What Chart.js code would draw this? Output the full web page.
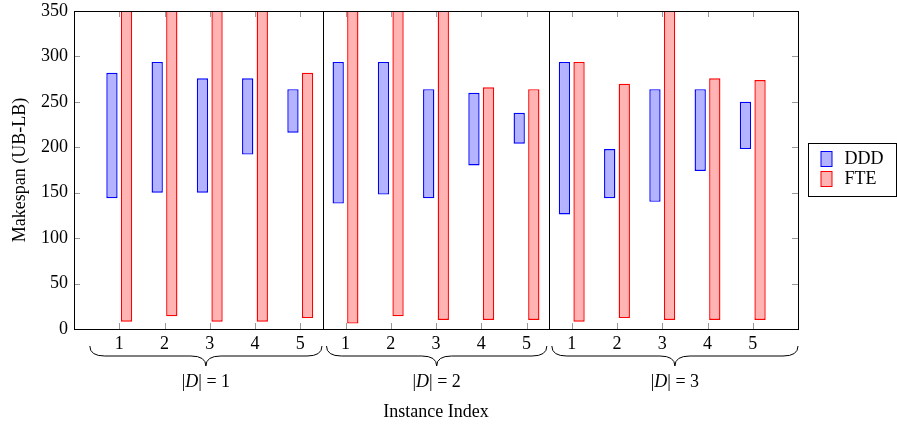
<!DOCTYPE html>
<html>
<head>
<meta charset="utf-8">
<script src="https://cdn.jsdelivr.net/npm/chart.js@4"></script>
<style>
  html, body { margin: 0; padding: 0; background: #fff; }
</style>
</head>
<body>
<canvas id="grafica" width="897" height="427"></canvas>
<script>
// datos
const instancias = ["1", "2", "3", "4", "5", "1", "2", "3", "4", "5", "1", "2", "3", "4", "5"]
const grupos = ["1", "2", "3"]          // |D| = ...
const instanciasPorGrupo = 5
const dddBajo = [144, 150, 150, 192, 216, 138, 148, 144, 180, 204, 126, 144, 140, 174, 198]
const dddAlto = [282, 294, 276, 276, 264, 294, 294, 264, 260, 238, 294, 198, 264, 264, 250]
const fteBajo = [8, 14, 8, 8, 12, 6, 14, 10, 10, 10, 8, 12, 10, 10, 10]
const fteAlto = [400, 400, 400, 400, 282, 400, 400, 400, 266, 264, 294, 270, 400, 276, 274]
const ticksY = [0, 50, 100, 150, 200, 250, 300, 350]

const FUENTE = '"Liberation Serif", "Times New Roman", serif'

function armarSerie(bajo, alto) {
  return instancias.map((_, i) => ({ x: i + 1, y: [bajo[i], alto[i]] }))
}

// llave horizontal con la punta hacia abajo
function llave(ctx, x0, x1, yArriba) {
  const r = 15, h = 10
  const xm = (x0 + x1) / 2
  const y1 = yArriba + h, y2 = y1 + h
  ctx.beginPath()
  ctx.moveTo(x0, yArriba)
  ctx.quadraticCurveTo(x0, y1, x0 + r, y1)
  ctx.lineTo(xm - r, y1)
  ctx.quadraticCurveTo(xm, y1, xm, y2)
  ctx.quadraticCurveTo(xm, y1, xm + r, y1)
  ctx.lineTo(x1 - r, y1)
  ctx.quadraticCurveTo(x1, y1, x1, yArriba)
  ctx.stroke()
}

function etiquetaGrupo(ctx, texto, xc, yc) {
  const normal = "18px " + FUENTE
  const italica = "italic 18px " + FUENTE
  const partes = [["|", normal], ["D", italica], ["| = " + texto, normal]]
  let total = 0
  partes.forEach(p => { ctx.font = p[1]; total += ctx.measureText(p[0]).width })
  let x = xc - total / 2
  ctx.textAlign = "left"
  ctx.textBaseline = "middle"
  partes.forEach(p => {
    ctx.font = p[1]
    ctx.fillText(p[0], x, yc)
    x += ctx.measureText(p[0]).width
  })
}

const extras = {
  id: "extras",
  afterDatasetsDraw(chart) {
    const { ctx, chartArea: a, scales: { x, y } } = chart
    ctx.save()
    // marcas grises hacia adentro
    ctx.strokeStyle = "#999"
    ctx.lineWidth = 1
    ctx.beginPath()
    instancias.forEach((_, i) => {
      const px = Math.round(x.getPixelForValue(i + 1)) + 0.5
      ctx.moveTo(px, a.bottom); ctx.lineTo(px, a.bottom - 6)
      ctx.moveTo(px, a.top); ctx.lineTo(px, a.top + 6)
    })
    ticksY.forEach(v => {
      const py = Math.round(y.getPixelForValue(v)) + 0.5
      ctx.moveTo(a.left, py); ctx.lineTo(a.left + 6, py)
      ctx.moveTo(a.right, py); ctx.lineTo(a.right - 6, py)
    })
    ctx.stroke()
    // separadores de grupos
    ctx.strokeStyle = "#000"
    ctx.beginPath()
    for (let g = 1; g < grupos.length; g++) {
      const px = Math.round(x.getPixelForValue(g * instanciasPorGrupo + 0.5)) + 0.5
      ctx.moveTo(px, a.top); ctx.lineTo(px, a.bottom)
    }
    ctx.stroke()
    ctx.strokeRect(Math.round(a.left) + 0.5, Math.round(a.top) + 0.5, Math.round(a.width), Math.round(a.height))
    ctx.restore()
  },
  afterDraw(chart) {
    const { ctx, chartArea: a, scales: { x } } = chart
    ctx.save()
    ctx.strokeStyle = "#000"
    ctx.fillStyle = "#000"
    ctx.lineWidth = 1
    // llaves bajo cada grupo
    const tramos = [[0.35, 5.48], [5.58, 10.45], [10.56, 16]]
    grupos.forEach((g, i) => {
      const x0 = x.getPixelForValue(tramos[i][0])
      const x1 = x.getPixelForValue(tramos[i][1])
      llave(ctx, x0, x1, a.bottom + 17)
      etiquetaGrupo(ctx, g, (x0 + x1) / 2, a.bottom + 53)
    })
    // leyenda a la derecha
    const lx = Math.round(a.right) + 10.5
    const ly = Math.round((a.top + a.bottom) / 2 - 27) + 0.5
    ctx.strokeRect(lx, ly, 88, 53)
    const series = chart.data.datasets
    ctx.font = "18px " + FUENTE
    ctx.textAlign = "left"
    ctx.textBaseline = "middle"
    series.forEach((d, i) => {
      const sy = ly + 8 + i * 20
      ctx.fillStyle = d.backgroundColor
      ctx.fillRect(lx + 12.5, sy, 11, 15)
      ctx.strokeStyle = d.borderColor
      ctx.strokeRect(lx + 12.5, sy, 11, 15)
      ctx.fillStyle = "#000"
      ctx.fillText(d.label, lx + 36, sy + 8)
    })
    ctx.restore()
  }
}

const config = {
  type: "bar",
  data: {
    datasets: [
      {
        label: "DDD",
        data: armarSerie(dddBajo, dddAlto),
        backgroundColor: "rgb(179,179,255)",
        borderColor: "rgb(0,0,255)",
        borderWidth: 1.4,
        borderSkipped: false,
        inflateAmount: 0,
        categoryPercentage: 0.645,
        barPercentage: 0.775,
        clip: 0
      },
      {
        label: "FTE",
        data: armarSerie(fteBajo, fteAlto),
        backgroundColor: "rgb(255,179,179)",
        borderColor: "rgb(255,0,0)",
        borderWidth: 1.4,
        borderSkipped: false,
        inflateAmount: 0,
        categoryPercentage: 0.645,
        barPercentage: 0.775,
        clip: 0
      }
    ]
  },
  options: {
    responsive: false,
    animation: false,
    events: [],
    layout: { padding: { left: 0, right: 99, top: 11, bottom: 0 } },
    plugins: { legend: { display: false }, tooltip: { enabled: false } },
    scales: {
      x: {
        type: "linear",
        min: 0,
        max: 16,
        offset: false,
        grid: { display: false, drawTicks: false },
        border: { display: false },
        ticks: {
          stepSize: 1,
          autoSkip: false,
          maxRotation: 0,
          padding: 4,
          color: "#000",
          font: { family: FUENTE, size: 18 },
          callback: v => (Number.isInteger(v) && v >= 1 && v <= instancias.length) ? instancias[v - 1] : ""
        },
        title: {
          display: true,
          text: "Instance Index",
          color: "#000",
          font: { family: FUENTE, size: 18 },
          padding: { top: 0, bottom: 4 }
        },
        afterFit: s => { s.height = 98; s.paddingLeft = 0; s.paddingRight = 0 }
      },
      y: {
        min: 0,
        max: 350,
        grid: { display: false, drawTicks: false },
        border: { display: false },
        afterBuildTicks: s => { s.ticks = ticksY.map(v => ({ value: v })) },
        ticks: {
          padding: 6,
          color: "#000",
          font: { family: FUENTE, size: 18 }
        },
        title: {
          display: true,
          text: "Makespan (UB-LB)",
          color: "#000",
          font: { family: FUENTE, size: 18 },
          padding: { top: 9, bottom: 0 }
        },
        afterFit: s => { s.width = 74; s.paddingTop = 0; s.paddingBottom = 0 }
      }
    }
  },
  plugins: [extras]
}

new Chart(document.getElementById("grafica"), config)
</script>
</body>
</html>
